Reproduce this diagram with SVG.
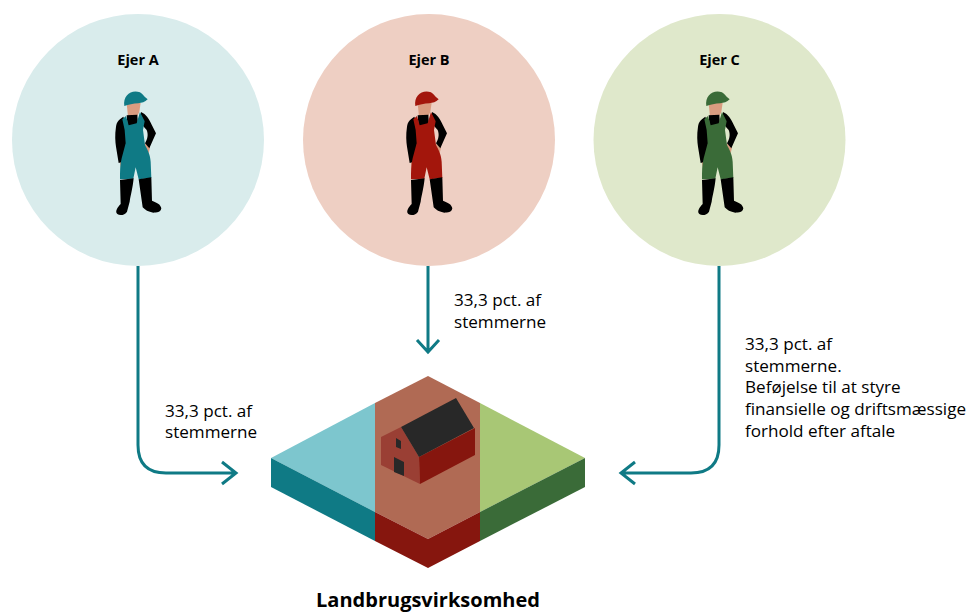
<svg xmlns="http://www.w3.org/2000/svg" width="970" height="612" viewBox="0 0 970 612">
<style>
text{font-family:"Open Sans","Liberation Sans",sans-serif;fill:#000}
.l{font-size:17.100px}
.h{font-size:14.500px;font-weight:700;text-anchor:middle}
.c{fill:none;stroke:#0f7a85;stroke-width:3}
.k{fill:#000}
.s{fill:#d99c80}
</style>
<defs>
<g id="man" transform="scale(.3333)">
<path class="s" d="M110,70L152,68L148,96L139,114L114,110Z"/>
<path class="s" d="M88,240L108,236L109,262L100,273L92,262ZM163,188L180,203L176,220L168,208Z"/>
<path fill="currentColor" d="M103,78C98,46 125,27 150,37C158,42 160,48 173,58C165,66 155,69 145,70C130,71 115,74 103,78Z"/>
<path class="k" d="M100,110C88,118 80,124 78,140C74,165 76,185 78,200L86,249L106,243L108,190L108,130ZM153,96C168,102 178,118 184,132L198,160L178,205L165,190C172,178 176,165 170,150L152,130ZM110,106L142,104L144,134L113,140Z"/>
<path fill="currentColor" d="M97,118L108,108L116,136L140,130L150,96L164,124L159,150L165,195C174,212 181,225 182,245L184,294L146,298L137,262L130,296L90,298C90,275 90,255 95,235L107,190L104,150Z"/>
<path class="k" d="M90,300L131,295C128,325 122,345 119,365L111,395C105,405 90,408 82,402C74,395 82,382 92,372ZM146,298L184,292L186,362C200,368 212,372 214,385C212,398 200,398 190,398C175,396 165,390 158,382Z"/>
</g>
</defs>
<g id="owner-a"><circle cx="138" cy="140" r="126" fill="#d9ecec"/><text class="h" x="138" y="65">Ejer A</text><use href="#man" x="90" y="80" color="#0f7a85"/></g>
<g id="owner-b"><circle cx="429" cy="140" r="126" fill="#eecfc3"/><text class="h" x="429" y="65">Ejer B</text><use href="#man" x="381" y="80" color="#a3160c"/></g>
<g id="owner-c"><circle cx="719.500" cy="140" r="126" fill="#dfe8cb"/><text class="h" x="719.500" y="65">Ejer C</text><use href="#man" x="672" y="80" color="#3a6b38"/></g>
<g id="connectors">
<path class="c" d="M138,266V445Q138,473 166,473H235M222,462L236,473L222,484"/>
<path class="c" d="M428,266V352M417,340L428,352L439,340"/>
<path class="c" d="M719,266V445Q719,473 691,473H622M635,462L621,473L635,484"/>
</g>
<g id="labels">
<text class="l" x="165" y="417">33,3 pct. af</text>
<text class="l" x="165" y="438">stemmerne</text>
<text class="l" x="454" y="306">33,3 pct. af</text>
<text class="l" x="454" y="328">stemmerne</text>
<text class="l" x="745" y="350">33,3 pct. af</text>
<text class="l" x="745" y="372">stemmerne.</text>
<text class="l" x="745" y="393">Beføjelse til at styre</text>
<text class="l" x="745" y="415">finansielle og driftsmæssige</text>
<text class="l" x="745" y="437">forhold efter aftale</text>
</g>
<g id="farm">
<path fill="#7dc6ce" d="M375,403L271,458L375,512Z"/>
<path fill="#a8c775" d="M480,403L585,458L480,512Z"/>
<path fill="#0f7a85" d="M271,458L375,512V541L271,487Z"/>
<path fill="#3a6b38" d="M585,458L480,512V541L585,487Z"/>
<path fill="#b06a54" d="M428,376L480,403V512L428,539L375,512V403Z"/>
<path fill="#86160e" d="M375,512L428,539L480,512V541L428,568L375,541Z"/>
<path fill="#9a3f34" d="M381,437L401,427L419,457L420,484L381,465Z"/>
<path fill="#86160e" d="M419,457L475,428V455L420,484Z"/>
<path fill="#282828" d="M401,427L456,398L474,428L419,457Z"/>
<path fill="#282828" d="M396,438L401,441V449L396,447ZM394,457L404,462V476L394,472Z"/>
<text x="428" y="607" text-anchor="middle" font-size="20" font-weight="700">Landbrugsvirksomhed</text>
</g>
</svg>
